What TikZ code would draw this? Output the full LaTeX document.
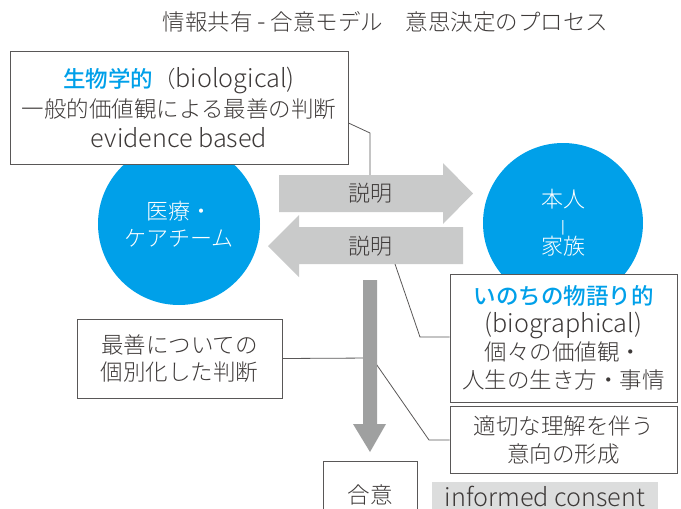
\documentclass[tikz,border=0pt]{standalone}
\usepackage{fontspec}
\newfontfamily\jp{Noto Sans CJK JP Light}
\newfontfamily\lt{Noto Sans CJK JP Light}[Scale=1.12]
\newfontfamily\jpb{Noto Sans CJK JP Medium}
\definecolor{cblue}{HTML}{00A0E9}
\definecolor{txt}{HTML}{3E3A39}
\definecolor{lgray}{HTML}{C9CACA}
\definecolor{mgray}{HTML}{9FA0A0}
\definecolor{bgray}{HTML}{DCDDDD}
\definecolor{edge}{HTML}{595757}
\begin{document}
\begin{tikzpicture}[x=1pt,y=-1pt,
  every node/.style={font=\jp\fontsize{22}{28}\selectfont, text=txt, inner sep=0pt},
  tbox/.style={draw=edge, line width=1pt, fill=white, align=center, rectangle},
  circ/.style={circle, fill=cblue, text=white, align=center},
  conn/.style={draw=edge, line width=0.8pt},
  harrow/.style={fill=lgray},
  varrow/.style={fill=mgray}]
\clip (0,0) rectangle (681,509);

% title
\node (title) at (385.5,22) {\fontsize{22.5}{26}\selectfont 情報共有 {\lt -} 合意モデル　意思決定のプロセス};

% circles
\node[circ, minimum size=162pt, font=\jp\fontsize{22}{27}\selectfont] (team) at (179,224) {医療・\\ケアチーム};
\node[circ, minimum size=160pt, font=\jp\fontsize{22}{23.5}\selectfont] (self) at (563,223) {本人\\{\jpb\fontsize{13}{13}\selectfont |}\\家族};

% boxes
\node[tbox, minimum width=338pt, minimum height=113pt, font=\jp\fontsize{22.5}{30}\selectfont] (bio) at (179,107.5)
  {{\jpb\color{cblue}生物学的}（{\lt biological)}\\一般的価値観による最善の判断\\{\lt evidence based}};
\node[tbox, minimum width=205pt, minimum height=79pt, font=\jp\fontsize{22.5}{27}\selectfont] (best) at (179.5,358.5)
  {最善についての\\個別化した判断};
\node[tbox, minimum width=227pt, minimum height=128pt, font=\jp\fontsize{22.5}{28}\selectfont] (life) at (563.5,338)
  {{\jpb\color{cblue}いのちの物語り的}\\{\lt (biographical)}\\個々の価値観・\\人生の生き方・事情};
\node[tbox, minimum width=227pt, minimum height=67pt, font=\jp\fontsize{22.5}{28}\selectfont] (intent) at (563.5,439.5)
  {適切な理解を伴う\\意向の形成};
\node[tbox, minimum width=94pt, minimum height=68pt, font=\jp\fontsize{22.5}{28}\selectfont] (agree) at (370,495) {合意};
\node[fill=bgray, minimum width=226pt, minimum height=28pt, font=\jp\fontsize{22.5}{28}\selectfont] (ic) at (545,496) {\lt informed consent};

% arrow anchor coordinates
\coordinate (h123) at (0,123);
\coordinate (k1) at (370,133);
\coordinate (a1top) at (370,175);
\coordinate (a2bot) at (395,264);
\coordinate (k2) at (420,337);
\coordinate (a3mid) at (372,358);
\coordinate (k4) at (429,440);

% connectors
\draw[conn] (bio.east |- h123) -- (k1) -- (a1top);
\draw[conn] (a2bot) -- (k2) -- (life.west |- k2);
\draw[conn] (best.east) -- (a3mid);
\draw[conn] (a3mid) -- (k4) -- (intent.west |- k4);

% arrows
\fill[harrow] (279,175) -- (443,175) -- (443,163) -- (473,193.5) -- (443,224) -- (443,212) -- (279,212) -- cycle;
\fill[harrow] (463,227) -- (299,227) -- (299,215) -- (268,246) -- (299,277) -- (299,264) -- (463,264) -- cycle;
\fill[varrow] (363,280) -- (377,280) -- (377,424) -- (386,424) -- (370,452) -- (353,424) -- (363,424) -- cycle;

\node (ex1) at (370,193) {説明};
\node (ex2) at (370,246) {説明};
\end{tikzpicture}
\end{document}
